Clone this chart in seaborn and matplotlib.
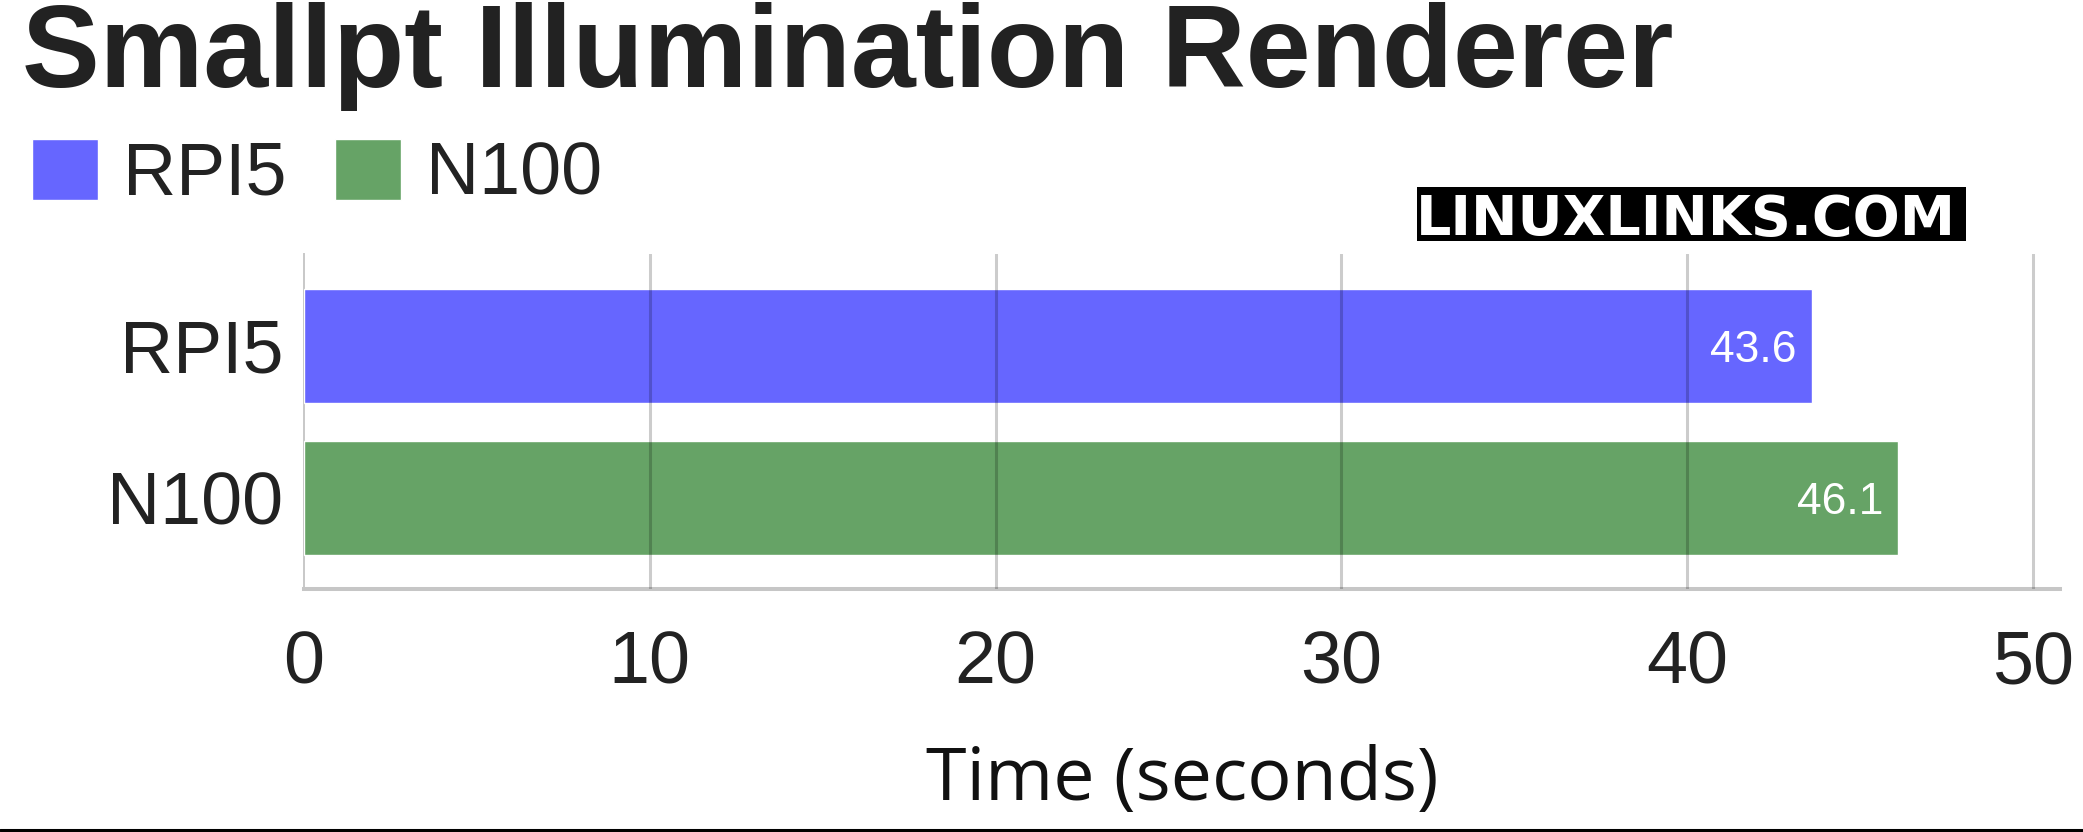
import matplotlib
matplotlib.use("Agg")
import matplotlib.pyplot as plt
import seaborn as sns
import pandas as pd
from matplotlib.lines import Line2D
from matplotlib.patches import Rectangle

# ---- data ----
title = "Smallpt Illumination Renderer"
categories = ["RPI5", "N100"]
times = [43.6, 46.1]
colors = ["#6666ff", "#66a366"]
x_ticks = [0, 10, 20, 30, 40, 50]
x_label = "Time (seconds)"
watermark = "LINUXLINKS.COM"

df = pd.DataFrame({"system": categories, "time": times})

sns.set_style("white")
plt.rcParams["font.family"] = ["Liberation Sans", "DejaVu Sans"]

W, H = 2083, 832
fig = plt.figure(figsize=(W / 100, H / 100), dpi=100)
ax = fig.add_axes([304 / W, 1 - 589 / H, (2060 - 304) / W, (589 - 254) / H])

sns.barplot(data=df, x="time", y="system", hue="system", order=categories,
            hue_order=categories, palette=colors, orient="h", width=0.75,
            saturation=1, ax=ax, legend=True)

ax.set_xlim(0, 50.78)
ax.set_ylim(1.6, -0.605)
ax.set_xticks(x_ticks)
ax.set_ylabel("")

for s in ["top", "right"]:
    ax.spines[s].set_visible(False)
ax.spines["left"].set_color("#c8c8c8")
ax.spines["left"].set_linewidth(1.4)
ax.spines["left"].set_zorder(0.5)
ax.spines["bottom"].set_color("#c6c6c6")
ax.spines["bottom"].set_linewidth(2.9)

ax.set_axisbelow(False)
ax.xaxis.grid(True, color="black", alpha=0.2, linewidth=2.2)
ax.yaxis.grid(False)
ax.xaxis.get_major_ticks()[0].gridline.set_visible(False)

ax.tick_params(axis="x", length=0, pad=29, labelsize=53, labelcolor="#222222")
ax.tick_params(axis="y", length=0, pad=15, labelsize=53, labelcolor="#222222")

for i, v in enumerate(times):
    ax.annotate(f"{v:.1f}", xy=(v, i), xytext=(-11, -11.5),
                textcoords="offset points", ha="right", va="baseline",
                color="white", fontsize=32)

ax.set_xlabel(x_label, fontfamily=["Open Sans", "DejaVu Sans"], fontsize=53,
              color="#111111")
ax.xaxis.set_label_coords(0.5, -(800 - 589) / (589 - 254))
ax.xaxis.label.set_va("baseline")

sns.move_legend(ax, "upper left", bbox_to_anchor=(32 / W, 1 - 139 / H),
                bbox_transform=fig.transFigure, ncol=2, title=None,
                frameon=False, fontsize=53, labelcolor="#222222",
                handlelength=0.9, handleheight=0.9, handletextpad=0.34,
                columnspacing=0.65, borderpad=0, borderaxespad=0)

fig.text(22 / W, 1 - 87 / H, title, fontsize=84, fontweight="bold",
         color="#222222", va="baseline")

# watermark: black box with white bold text
fig.add_artist(Rectangle((1417 / W, 1 - 241 / H), (1966 - 1417) / W, 54 / H,
                         transform=fig.transFigure, facecolor="black",
                         edgecolor="none", zorder=5))
fig.text(1416 / W, 1 - 235 / H, watermark, fontfamily=["DejaVu Sans"],
         fontweight="bold", fontsize=40, color="white", va="baseline",
         zorder=6)

fig.add_artist(Line2D([0, 1], [1 - 829.5 / H] * 2, transform=fig.transFigure,
                      color="black", linewidth=2.2))

fig.savefig("out.png", dpi=100)
